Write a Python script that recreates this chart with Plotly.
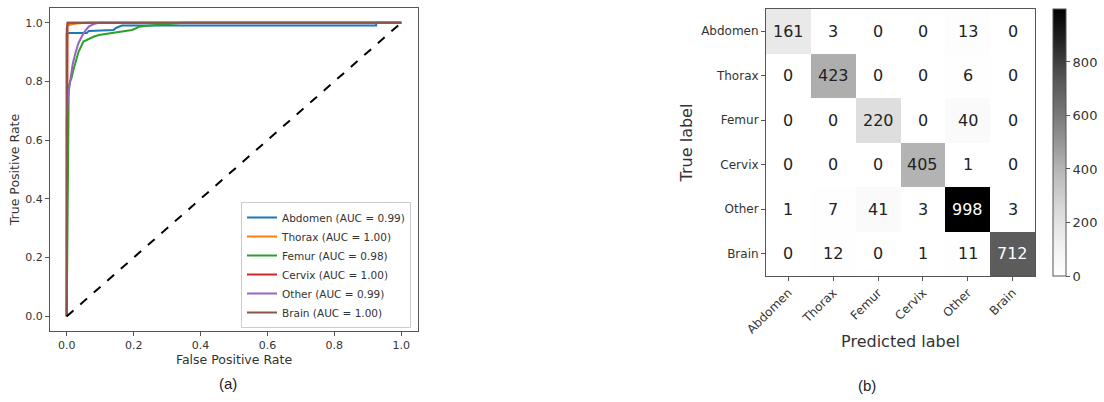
import plotly.graph_objects as go

# ---------------- data ----------------
classes = ["Abdomen", "Thorax", "Femur", "Cervix", "Other", "Brain"]
auc_values = [0.99, 1.00, 0.98, 1.00, 0.99, 1.00]

fpr_abdomen = [0.0, 0.0, 0.008, 0.06, 0.066, 0.14, 0.147, 0.165, 0.925, 0.925, 1.0]
tpr_abdomen = [0.0, 0.962, 0.965, 0.965, 0.972, 0.975, 0.982, 0.99, 0.99, 1.0, 1.0]

fpr_thorax = [0.0, 0.0, 0.002, 0.01, 0.03, 0.06, 1.0]
tpr_thorax = [0.0, 0.95, 0.99, 0.993, 0.997, 1.0, 1.0]

fpr_femur = [0.0, 0.006, 0.01, 0.014, 0.02, 0.026, 0.035, 0.05, 0.065, 0.08, 0.096,
             0.12, 0.146, 0.17, 0.195, 0.205, 0.215, 0.25, 0.296, 0.35, 1.0]
tpr_femur = [0.0, 0.78, 0.8, 0.81, 0.84, 0.868, 0.9, 0.936, 0.945, 0.952, 0.958,
             0.962, 0.967, 0.97, 0.975, 0.98, 0.986, 0.99, 0.995, 1.0, 1.0]

fpr_cervix = [0.0, 0.0, 0.002, 1.0]
tpr_cervix = [0.0, 0.99, 1.0, 1.0]

fpr_other = [0.0, 0.0, 0.004, 0.011, 0.018, 0.026, 0.035, 0.045, 0.055, 0.066, 0.08, 0.096, 1.0]
tpr_other = [0.0, 0.67, 0.75, 0.805, 0.86, 0.897, 0.93, 0.953, 0.972, 0.987, 0.995, 1.0, 1.0]

fpr_brain = [0.0, 0.0, 0.004, 1.0]
tpr_brain = [0.0, 0.98, 1.0, 1.0]

chance_x = [0.0, 1.0]
chance_y = [0.0, 1.0]

confusion = [
    [161, 3, 0, 0, 13, 0],
    [0, 423, 0, 0, 6, 0],
    [0, 0, 220, 0, 40, 0],
    [0, 0, 0, 405, 1, 0],
    [1, 7, 41, 3, 998, 3],
    [0, 12, 0, 1, 11, 712],
]
cbar_ticks = [0, 200, 400, 600, 800]
roc_ticks = [0.0, 0.2, 0.4, 0.6, 0.8, 1.0]

# ---------------- styling ----------------
colors = ["#1f77b4", "#ff7f0e", "#2ca02c", "#d62728", "#9467bd", "#8c564b"]
curves = [
    (fpr_abdomen, tpr_abdomen),
    (fpr_thorax, tpr_thorax),
    (fpr_femur, tpr_femur),
    (fpr_cervix, tpr_cervix),
    (fpr_other, tpr_other),
    (fpr_brain, tpr_brain),
]
FONT = "DejaVu Sans"
AXC = "#555555"
TXT = "#333333"

fig = go.Figure()

for name, auc, col, (fx, ty) in zip(classes, auc_values, colors, curves):
    fig.add_trace(go.Scatter(
        x=fx, y=ty, mode="lines", line=dict(color=col, width=2),
        name=f"{name} (AUC = {auc:.2f})", xaxis="x", yaxis="y",
    ))

fig.add_trace(go.Scatter(
    x=chance_x, y=chance_y, mode="lines",
    line=dict(color="black", width=2, dash="dash"), showlegend=False,
    xaxis="x", yaxis="y",
))

zmax = max(max(r) for r in confusion)
greys = [[0.0, "#ffffff"], [0.125, "#f0f0f0"], [0.25, "#d9d9d9"], [0.375, "#bdbdbd"],
         [0.5, "#969696"], [0.625, "#737373"], [0.75, "#525252"], [0.875, "#252525"],
         [1.0, "#000000"]]

hm_bottom = 1 - 276 / 402
hm_top = 1 - 9 / 402
fig.add_trace(go.Heatmap(
    z=confusion, x=classes, y=classes, colorscale=greys, zmin=0, zmax=zmax,
    xaxis="x2", yaxis="y2",
    colorbar=dict(
        x=1053 / 1104, xanchor="left", xref="paper", xpad=0, ypad=0,
        y=(hm_bottom + hm_top) / 2, yanchor="middle",
        len=267, lenmode="pixels", thickness=13, thicknessmode="pixels",
        outlinewidth=1, outlinecolor=AXC,
        tickvals=cbar_ticks, ticks="outside", ticklen=4, tickcolor=AXC,
        tickfont=dict(family=FONT, size=13, color=TXT),
    ),
))

annotations = []
for i, row in enumerate(confusion):
    for j, v in enumerate(row):
        annotations.append(dict(
            x=classes[j], y=classes[i], xref="x2", yref="y2", text=str(v),
            showarrow=False,
            font=dict(family=FONT, size=16, color="white" if v > zmax / 2 else "#222222"),
        ))

annotations += [
    dict(x=228 / 1104, y=1 - 383 / 402, xref="paper", yref="paper", text="(a)",
         xanchor="center", yanchor="middle",
         showarrow=False, font=dict(family="Liberation Sans", size=15, color="#222222")),
    dict(x=867 / 1104, y=1 - 385 / 402, xref="paper", yref="paper", text="(b)",
         xanchor="center", yanchor="middle",
         showarrow=False, font=dict(family="Liberation Sans", size=15, color="#222222")),
]

x1_dom = [50 / 1104, 418 / 1104]
y1_dom = [1 - 331 / 402, 1 - 8 / 402]

fig.update_layout(
    width=1104, height=402,
    margin=dict(l=0, r=0, t=0, b=0, autoexpand=False),
    paper_bgcolor="white", plot_bgcolor="white",
    font=dict(family=FONT, color=TXT),
    showlegend=True,
    legend=dict(
        x=411 / 1104, xanchor="right", y=1 - 328 / 402, yanchor="bottom",
        bgcolor="rgba(255,255,255,0.85)", bordercolor="#cccccc", borderwidth=1,
        font=dict(family=FONT, size=10.5, color=TXT), tracegroupgap=0,
    ),
    xaxis=dict(
        domain=x1_dom, range=[-0.05, 1.05], tickvals=roc_ticks, ticktext=[f"{t:.1f}" for t in roc_ticks],
        showline=True, mirror=True, linecolor=AXC, linewidth=1, ticks="outside", ticklen=4,
        tickcolor=AXC, showgrid=False, zeroline=False, anchor="y", automargin=False,
        tickfont=dict(size=11, color=TXT),
        title=dict(text="False Positive Rate", font=dict(size=12.5, color=TXT), standoff=1),
    ),
    yaxis=dict(
        domain=y1_dom, range=[-0.05, 1.05], tickvals=roc_ticks, ticktext=[f"{t:.1f}" for t in roc_ticks],
        showline=True, mirror=True, linecolor=AXC, linewidth=1, ticks="outside", ticklen=4,
        tickcolor=AXC, showgrid=False, zeroline=False, anchor="x", automargin=False,
        tickfont=dict(size=11, color=TXT),
        title=dict(text="True Positive Rate", font=dict(size=12.5, color=TXT), standoff=2),
    ),
    xaxis2=dict(
        domain=[766 / 1104, 1035 / 1104], anchor="y2", tickangle=-45,
        showline=True, mirror=True, linecolor=AXC, linewidth=1, ticks="outside", ticklen=4,
        tickcolor=AXC, showgrid=False, zeroline=False, automargin=False,
        tickfont=dict(size=12, color=TXT),
        title=dict(text="Predicted label", font=dict(size=16, color=TXT), standoff=0),
    ),
    yaxis2=dict(
        domain=[hm_bottom, hm_top], anchor="x2", autorange="reversed",
        showline=True, mirror=True, linecolor=AXC, linewidth=1, ticks="outside", ticklen=4,
        tickcolor=AXC, showgrid=False, zeroline=False, automargin=False,
        tickfont=dict(size=12, color=TXT),
        title=dict(text="True label", font=dict(size=16, color=TXT), standoff=4),
    ),
    annotations=annotations,
)

fig.write_html("out.html")
